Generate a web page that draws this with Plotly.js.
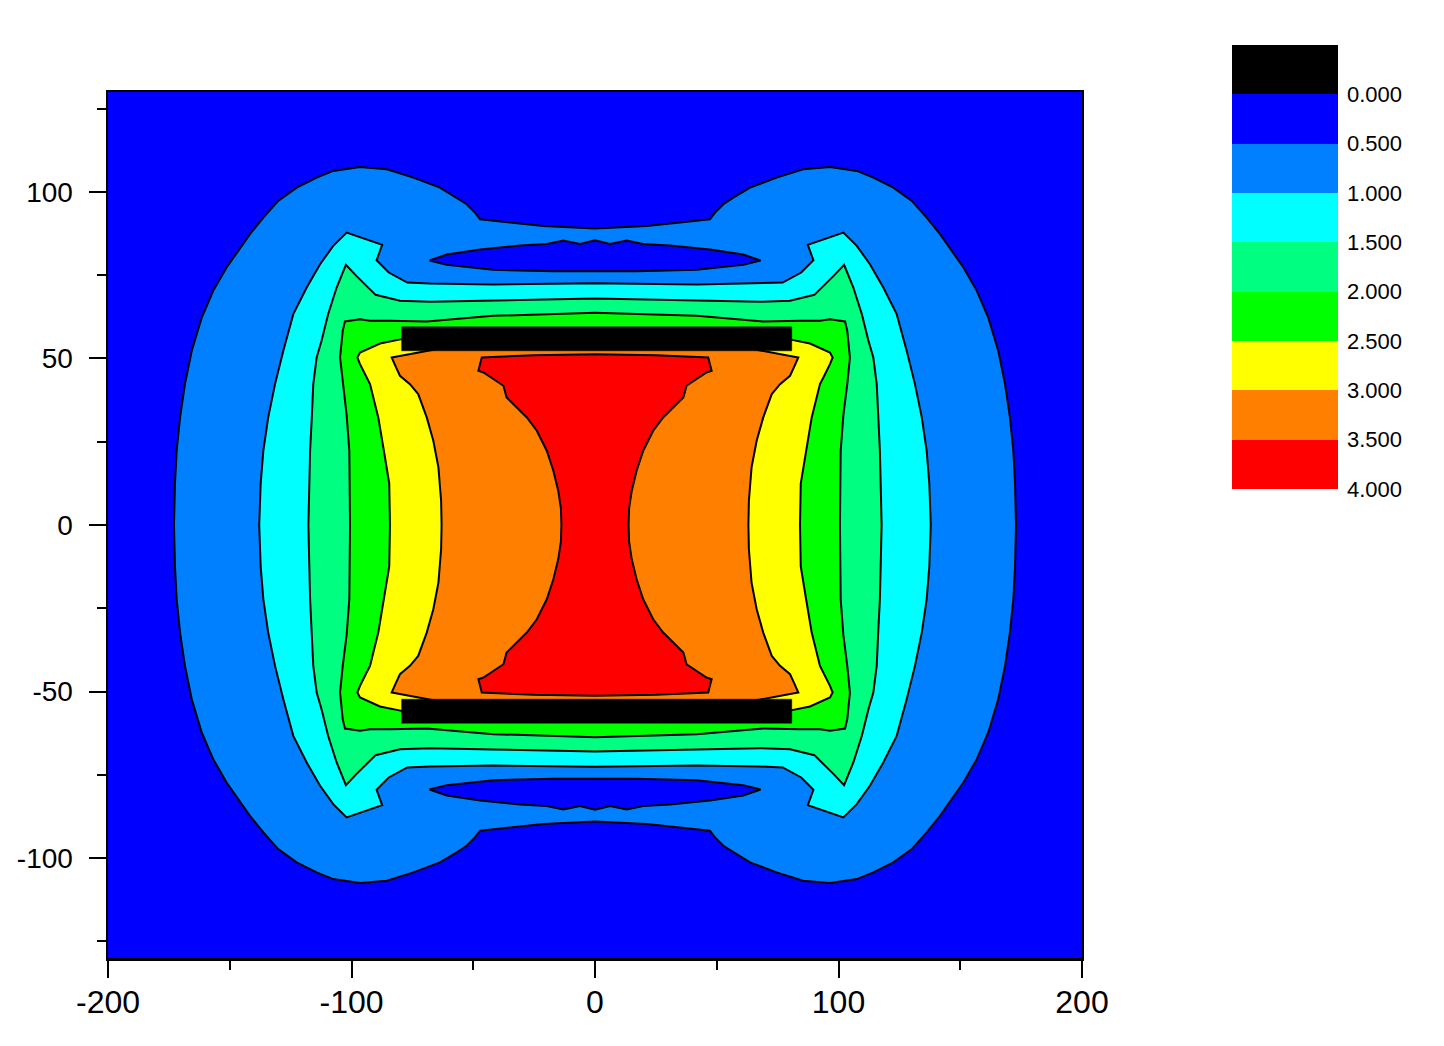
<!DOCTYPE html>
<html>
<head>
<meta charset="utf-8">
<script src="https://cdn.plot.ly/plotly-3.0.1.min.js"></script>
<style>html,body{margin:0;padding:0;background:#fff;}#chart{width:1444px;height:1046px;}</style>
</head>
<body>
<div id="chart"></div>
<script>
// ---- Data (top-left quadrant of each contour; the field is symmetric) ----
// Level boundary 0.5 (outer edge of the light-blue zone)
const lvl05X = [-172.9, -172.5, -171.8, -170.4, -168.4, -165.6, -161.5, -156.8, -151.3, -146.5, -141.7, -136.2, -130.1, -122.5, -114.3, -107.5, -96.5, -85.5, -74.6, -63.7, -56.8, -52.7, -49.3, -47.2, -34.9, -21.2, 0];
const lvl05Y = [0, 12.4, 22.3, 32.3, 42.3, 52.3, 62.3, 70.3, 77.3, 82.3, 87.3, 92.3, 97.3, 101.3, 104.3, 106.3, 107.5, 106.8, 104.3, 101.3, 98.3, 96.3, 93.8, 91.8, 90.8, 89.8, 89.0];
// Low-field islands (value < 0.5) above/below the plates
const islandTopX = [-68.0, -60.9, -47.2, -30.8, -19.8, -13.0, -6.2, 0];
const islandTopY = [79.4, 81.2, 82.7, 83.9, 84.4, 85.4, 84.4, 85.5];
const islandBotX = [-68.0, -60.9, -41.8, -17.1, 0];
const islandBotY = [79.4, 78.1, 76.6, 76.2, 76.2];
// Level 1.0 (cyan zone)
const lvl10X = [-137.9, -137.3, -136.2, -134.2, -131.4, -128.0, -123.9, -118.4, -112.9, -107.5, -102.0, -87.4, -89.7, -84.7, -77.1, -67.8, -41.8, 0];
const lvl10Y = [0, 12.4, 22.3, 32.3, 42.3, 52.3, 63.3, 71.3, 78.3, 83.8, 87.8, 84.1, 79.5, 75.8, 72.8, 72.5, 72.2, 72.6];
// Level 1.5 (spring-green zone)
const lvl15X = [-117.7, -117.4, -117.0, -116.3, -115.7, -114.3, -112.3, -109.6, -106.1, -102.3, -98.0, -90.1, -80.1, -67.8, -41.8, 0];
const lvl15Y = [0, 10, 22.3, 32.3, 42.3, 50.3, 55.3, 63.3, 71.3, 78.1, 74.8, 69.1, 67.3, 67.0, 67.4, 68.0];
// Level 2.0 (green zone)
const lvl20X = [-100.6, -100.9, -102.0, -103.6, -104.7, -103.6, -102.7, -96.5, -92.4, -84.2, -69.1, -41.8, 0];
const lvl20Y = [0, 22.3, 33, 42.3, 50.3, 58.3, 61.1, 61.8, 61.3, 61.3, 61.1, 62.8, 63.7];
// Level 2.5 (yellow zone; top edge runs under the plate)
const lvl25X = [-84.2, -84.5, -86.7, -89.0, -92.4, -93.8, -96.5, -97.6, -96.5, -88.3, -79.4, -60, 0];
const lvl25Y = [0, 12.4, 22.3, 32.3, 42.3, 44.3, 48.3, 50.3, 51.8, 54.5, 55.8, 56, 56];
// Level 3.0 (orange zone; top edge runs under the plate)
const lvl30X = [-63.0, -63.2, -64.3, -66.4, -69.1, -72.6, -76.0, -80.1, -81.7, -83.5, -66.4, -60, 0];
const lvl30Y = [0, 7.3, 17.3, 25.3, 32.3, 39.3, 42.3, 44.8, 47.3, 50.3, 52.6, 55, 55];
// Level 3.5 (red zone)
const lvl35X = [-13.8, -14.0, -15.1, -17.1, -19.8, -23.9, -28.0, -30.8, -34.9, -36.3, -37.6, -45.8, -47.9, -46.5, -25.0, 0];
const lvl35Y = [0, 5, 10.3, 16.3, 22.3, 28.3, 32.3, 34.3, 37.3, 38.3, 41.8, 45.8, 46.3, 50.3, 51.0, 51.3];
// Capacitor plates
const plateX = [-79.4, 80.8];
const plateY = [52.3, 59.5];

// Axis tick labels
const xTickVals = [-200, -100, 0, 100, 200];
const xTickText = ['-200', '-100', '0', '100', '200'];
const yTickVals = [-100, -50, 0, 50, 100];
const yTickText = ['-100', '-50', '0', '50', '100'];

// Colour scale (legend)
const bandColors = ['#000000', '#0000FF', '#0080FF', '#00FFFF', '#00FF80', '#00FF00', '#FFFF00', '#FF8000', '#FF0000'];
const bandEdges = [-0.5, 0, 0.5, 1, 1.5, 2, 2.5, 3, 3.5, 4];
const levelTicks = [0, 0.5, 1, 1.5, 2, 2.5, 3, 3.5, 4];
const levelLabels = ['0.000', '0.500', '1.000', '1.500', '2.000', '2.500', '3.000', '3.500', '4.000'];

// ---- builders ----
function ring(qx, qy) {
  const X = [], Y = [], n = qx.length;
  for (let i = 0; i < n; i++) { X.push(qx[i]); Y.push(qy[i]); }
  for (let i = n - 1; i >= 0; i--) { X.push(-qx[i]); Y.push(qy[i]); }
  for (let i = 0; i < n; i++) { X.push(-qx[i]); Y.push(-qy[i]); }
  for (let i = n - 1; i >= 0; i--) { X.push(qx[i]); Y.push(-qy[i]); }
  return { X, Y };
}
function island(sign) {
  const X = [], Y = [];
  for (let i = 0; i < islandTopX.length; i++) { X.push(islandTopX[i]); Y.push(sign * islandTopY[i]); }
  for (let i = islandTopX.length - 1; i >= 0; i--) { X.push(-islandTopX[i]); Y.push(sign * islandTopY[i]); }
  for (let i = 0; i < islandBotX.length; i++) { X.push(-islandBotX[i]); Y.push(sign * islandBotY[i]); }
  for (let i = islandBotX.length - 1; i >= 0; i--) { X.push(islandBotX[i]); Y.push(sign * islandBotY[i]); }
  return { X, Y };
}
function plate(sign) {
  return {
    X: [plateX[0], plateX[1], plateX[1], plateX[0], plateX[0]],
    Y: [sign * plateY[0], sign * plateY[0], sign * plateY[1], sign * plateY[1], sign * plateY[0]]
  };
}
function region(shape, color, lw) {
  return {
    type: 'scatter', mode: 'lines', x: shape.X, y: shape.Y,
    fill: 'toself', fillcolor: color,
    line: { color: '#000000', width: lw === undefined ? 2 : lw },
    hoverinfo: 'skip', showlegend: false, xaxis: 'x', yaxis: 'y'
  };
}

const traces = [
  region(ring(lvl05X, lvl05Y), bandColors[2]),
  region(island(1), bandColors[1]),
  region(island(-1), bandColors[1]),
  region(ring(lvl10X, lvl10Y), bandColors[3]),
  region(ring(lvl15X, lvl15Y), bandColors[4]),
  region(ring(lvl20X, lvl20Y), bandColors[5]),
  region(ring(lvl25X, lvl25Y), bandColors[6]),
  region(ring(lvl30X, lvl30Y), bandColors[7]),
  region(ring(lvl35X, lvl35Y), bandColors[8]),
  region(plate(1), bandColors[0], 0.5),
  region(plate(-1), bandColors[0], 0.5)
];

// Colour-bar legend as a heatmap on its own axes
const scale = [];
bandColors.forEach((c, i) => { scale.push([i / bandColors.length, c]); scale.push([(i + 1) / bandColors.length, c]); });
traces.push({
  type: 'heatmap', x: [0, 1], y: bandEdges,
  z: bandColors.map((c, i) => [i]),
  colorscale: scale, zmin: -0.5, zmax: bandColors.length - 0.5,
  showscale: false, hoverinfo: 'skip', xaxis: 'x2', yaxis: 'y2'
});

const FONT = 'Liberation Sans, Arial, sans-serif';
const layout = {
  width: 1444, height: 1046,
  margin: { l: 108, r: 20, t: 45, b: 88, pad: 0 },
  paper_bgcolor: '#FFFFFF', plot_bgcolor: '#0000FF',
  showlegend: false,
  font: { family: FONT, color: '#000000' },
  xaxis: {
    domain: [0, 0.74012], range: [-200, 200], anchor: 'y',
    tickmode: 'array', tickvals: xTickVals, ticktext: xTickText,
    ticks: 'outside', ticklen: 17, tickwidth: 2, tickcolor: '#000',
    minor: { dtick: 50, ticks: 'outside', ticklen: 9, tickwidth: 2, tickcolor: '#000', showgrid: false },
    showline: true, linewidth: 2.5, linecolor: '#000', mirror: true,
    showgrid: false, zeroline: false, ticklabelstandoff: -3,
    tickfont: { family: FONT, size: 32, color: '#000' }
  },
  yaxis: {
    domain: [0, 0.94852], range: [-130, 130], anchor: 'x',
    tickmode: 'array', tickvals: yTickVals, ticktext: yTickText,
    ticks: 'outside', ticklen: 17, tickwidth: 2, tickcolor: '#000',
    minor: { dtick: 25, ticks: 'outside', ticklen: 9, tickwidth: 2, tickcolor: '#000', showgrid: false },
    showline: true, linewidth: 2.5, linecolor: '#000', mirror: true,
    showgrid: false, zeroline: false, ticklabelstandoff: 10,
    tickfont: { family: FONT, size: 28, color: '#000' }
  },
  xaxis2: {
    domain: [0.85410, 0.93465], range: [0, 1], anchor: 'y2',
    showticklabels: false, ticks: '', showgrid: false, zeroline: false, showline: false, fixedrange: true
  },
  yaxis2: {
    domain: [0.51369, 1], range: [4, -0.5], anchor: 'x2', side: 'right',
    tickmode: 'array', tickvals: levelTicks, ticktext: levelLabels,
    ticks: '', showgrid: false, zeroline: false, showline: false, ticklabelstandoff: 8,
    tickfont: { family: FONT, size: 22, color: '#000' }, fixedrange: true
  }
};

Plotly.newPlot('chart', traces, layout, { staticPlot: true, displayModeBar: false });
</script>
</body>
</html>
